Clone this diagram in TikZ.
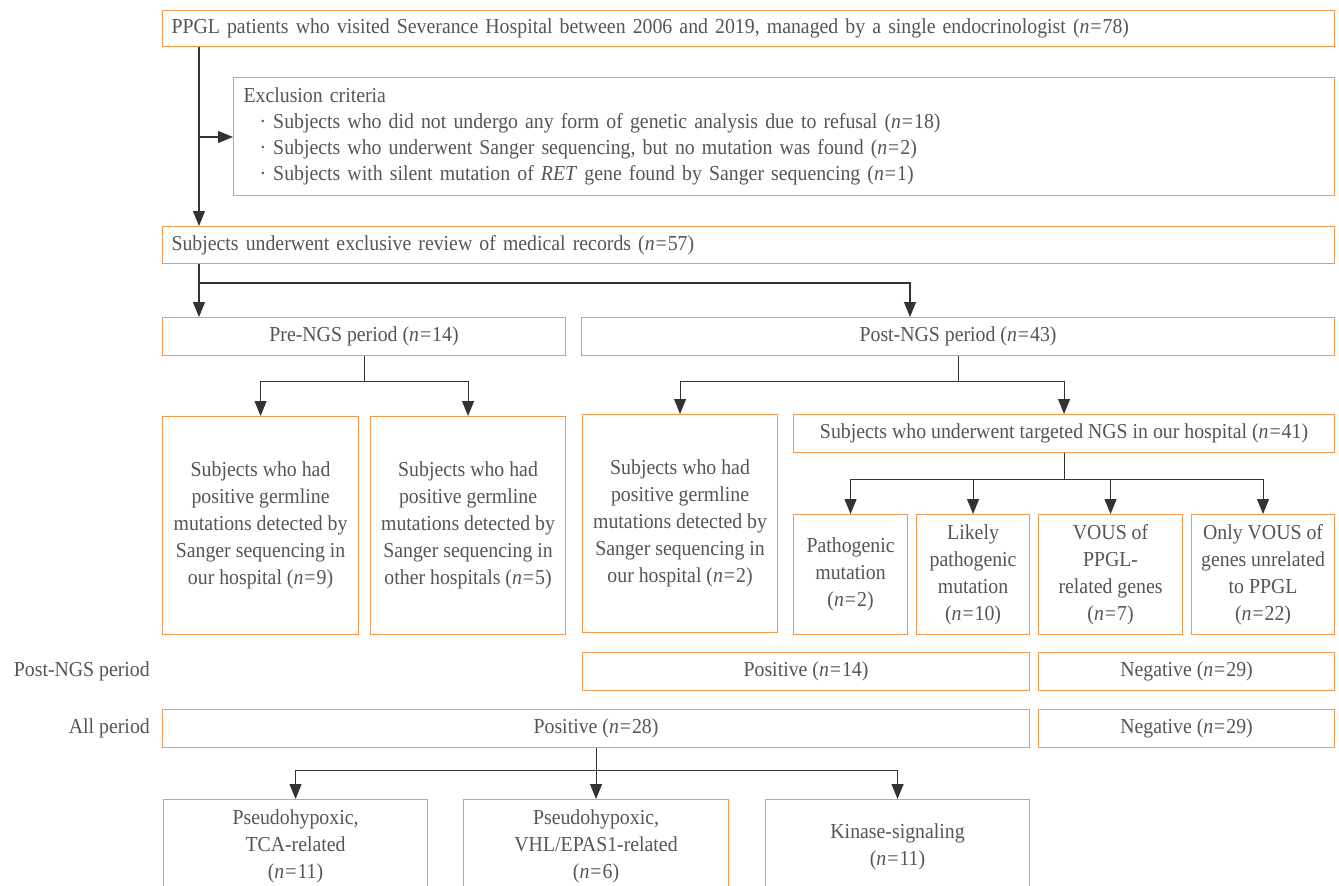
\documentclass[tikz,border=0pt]{standalone}
\usepackage{fontspec}
\setmainfont[FakeStretch=0.93]{Liberation Serif}
\usetikzlibrary{arrows.meta}
\definecolor{boxc}{HTML}{F39A4E}
\definecolor{txtc}{HTML}{555555}
\definecolor{linec}{HTML}{333333}
\newcommand{\nval}[1]{(\textit{n}\kern1pt=\kern1pt#1)}
\begin{document}
\begin{tikzpicture}[x=1pt,y=-1pt,
  box/.style={draw=boxc,line width=1.1pt,inner sep=0pt,align=center,text=txtc,
    font=\fontsize{21.3}{27}\selectfont,anchor=north west},
  lab/.style={text=txtc,font=\fontsize{21.3}{27}\selectfont,inner sep=0pt,anchor=east},
  ln/.style={draw=linec,line width=1.1pt},
  arr/.style={ln,-{Triangle[length=15pt,width=12pt]}},
]
\useasboundingbox[fill=white] (0,0) rectangle (1339,886);

\node[box,minimum width=1172pt,minimum height=36pt,text width=1154pt,inner xsep=9pt,align=left] (top) at (162,10)
  {PPGL patients who visited Severance Hospital between 2006 and 2019, managed by a single endocrinologist \nval{78}};
\node[box,minimum width=1101pt,minimum height=118pt,text width=1081pt,inner xsep=10pt,align=left,
  font=\fontsize{21.3}{26}\selectfont] (excl) at (233,77)
  {Exclusion criteria\\
   \hspace*{16pt}· Subjects who did not undergo any form of genetic analysis due to refusal \nval{18}\\
   \hspace*{16pt}· Subjects who underwent Sanger sequencing, but no mutation was found \nval{2}\\
   \hspace*{16pt}· Subjects with silent mutation of \textit{RET} gene found by Sanger sequencing \nval{1}};
\node[box,minimum width=1172pt,minimum height=37pt,text width=1154pt,inner xsep=9pt,align=left] (review) at (162,226)
  {Subjects underwent exclusive review of medical records \nval{57}};

\node[box,minimum width=403pt,minimum height=38pt] (pre) at (162,317) {Pre-NGS period \nval{14}};
\node[box,minimum width=753pt,minimum height=38pt] (post) at (581,317) {Post-NGS period \nval{43}};

\node[box,minimum width=196pt,minimum height=218pt] (b1) at (162,416)
  {Subjects who had\\positive germline\\mutations detected by\\Sanger sequencing in\\our hospital \nval{9}};
\node[box,minimum width=195pt,minimum height=218pt] (b2) at (370,416)
  {Subjects who had\\positive germline\\mutations detected by\\Sanger sequencing in\\other hospitals \nval{5}};
\node[box,minimum width=195pt,minimum height=218pt] (b3) at (582,414)
  {Subjects who had\\positive germline\\mutations detected by\\Sanger sequencing in\\our hospital \nval{2}};
\node[box,minimum width=541pt,minimum height=38pt] (ngs) at (793,414)
  {Subjects who underwent targeted NGS in our hospital \nval{41}};

\node[box,minimum width=114pt,minimum height=120pt] (sA) at (793,514) {Pathogenic\\mutation\\\nval{2}};
\node[box,minimum width=113pt,minimum height=120pt] (sB) at (916,514) {Likely\\pathogenic\\mutation\\\nval{10}};
\node[box,minimum width=144pt,minimum height=120pt] (sC) at (1038,514) {VOUS of\\PPGL-\\related genes\\\nval{7}};
\node[box,minimum width=143pt,minimum height=120pt] (sD) at (1191,514) {Only VOUS of\\genes unrelated\\to PPGL\\\nval{22}};

\node[lab] (l1) at (150,671) {Post-NGS period};
\node[box,minimum width=447pt,minimum height=38pt] (posA) at (582,652) {Positive \nval{14}};
\node[box,minimum width=296pt,minimum height=38pt] (negA) at (1038,652) {Negative \nval{29}};

\node[lab] (l2) at (150,728) {All period};
\node[box,minimum width=867pt,minimum height=38pt] (posB) at (162,709) {Positive \nval{28}};
\node[box,minimum width=296pt,minimum height=38pt] (negB) at (1038,709) {Negative \nval{29}};

\node[box,minimum width=264pt,minimum height=94pt] (c1) at (163,799) {Pseudohypoxic,\\TCA-related\\\nval{11}};
\node[box,minimum width=265pt,minimum height=94pt] (c2) at (463,799) {Pseudohypoxic,\\VHL/EPAS1-related\\\nval{6}};
\node[box,minimum width=264pt,minimum height=94pt] (c3) at (765,799) {Kinase-signaling\\\nval{11}};

% connectors
\coordinate (ja) at (199,137);
\coordinate (jb) at (199,283);
\coordinate (jc) at (910,283);
\draw[arr] (top.south -| ja) -- (review.north -| ja);
\draw[arr] (ja) -- (excl.west |- ja);
\draw[arr] (review.south -| ja) -- (pre.north -| ja);
\draw[arr] (jb) -- (jc) -- (post.north -| jc);

\draw[arr] (pre.south) -- ++(0,25) -| (b1.north);
\draw[arr] (pre.south) -- ++(0,25) -| (b2.north);
\draw[arr] (post.south) -- ++(0,25) -| (b3.north);
\draw[arr] (post.south) -- ++(0,25) -| (ngs.north);

\draw[arr] (ngs.south) -- ++(0,26) -| (sA.north);
\draw[arr] (ngs.south) -- ++(0,26) -| (sB.north);
\draw[arr] (ngs.south) -- ++(0,26) -| (sC.north);
\draw[arr] (ngs.south) -- ++(0,26) -| (sD.north);

\draw[arr] (posB.south) -- ++(0,22) -| (c1.north);
\draw[arr] (posB.south) -- (c2.north);
\draw[arr] (posB.south) -- ++(0,22) -| (c3.north);
\end{tikzpicture}
\end{document}
